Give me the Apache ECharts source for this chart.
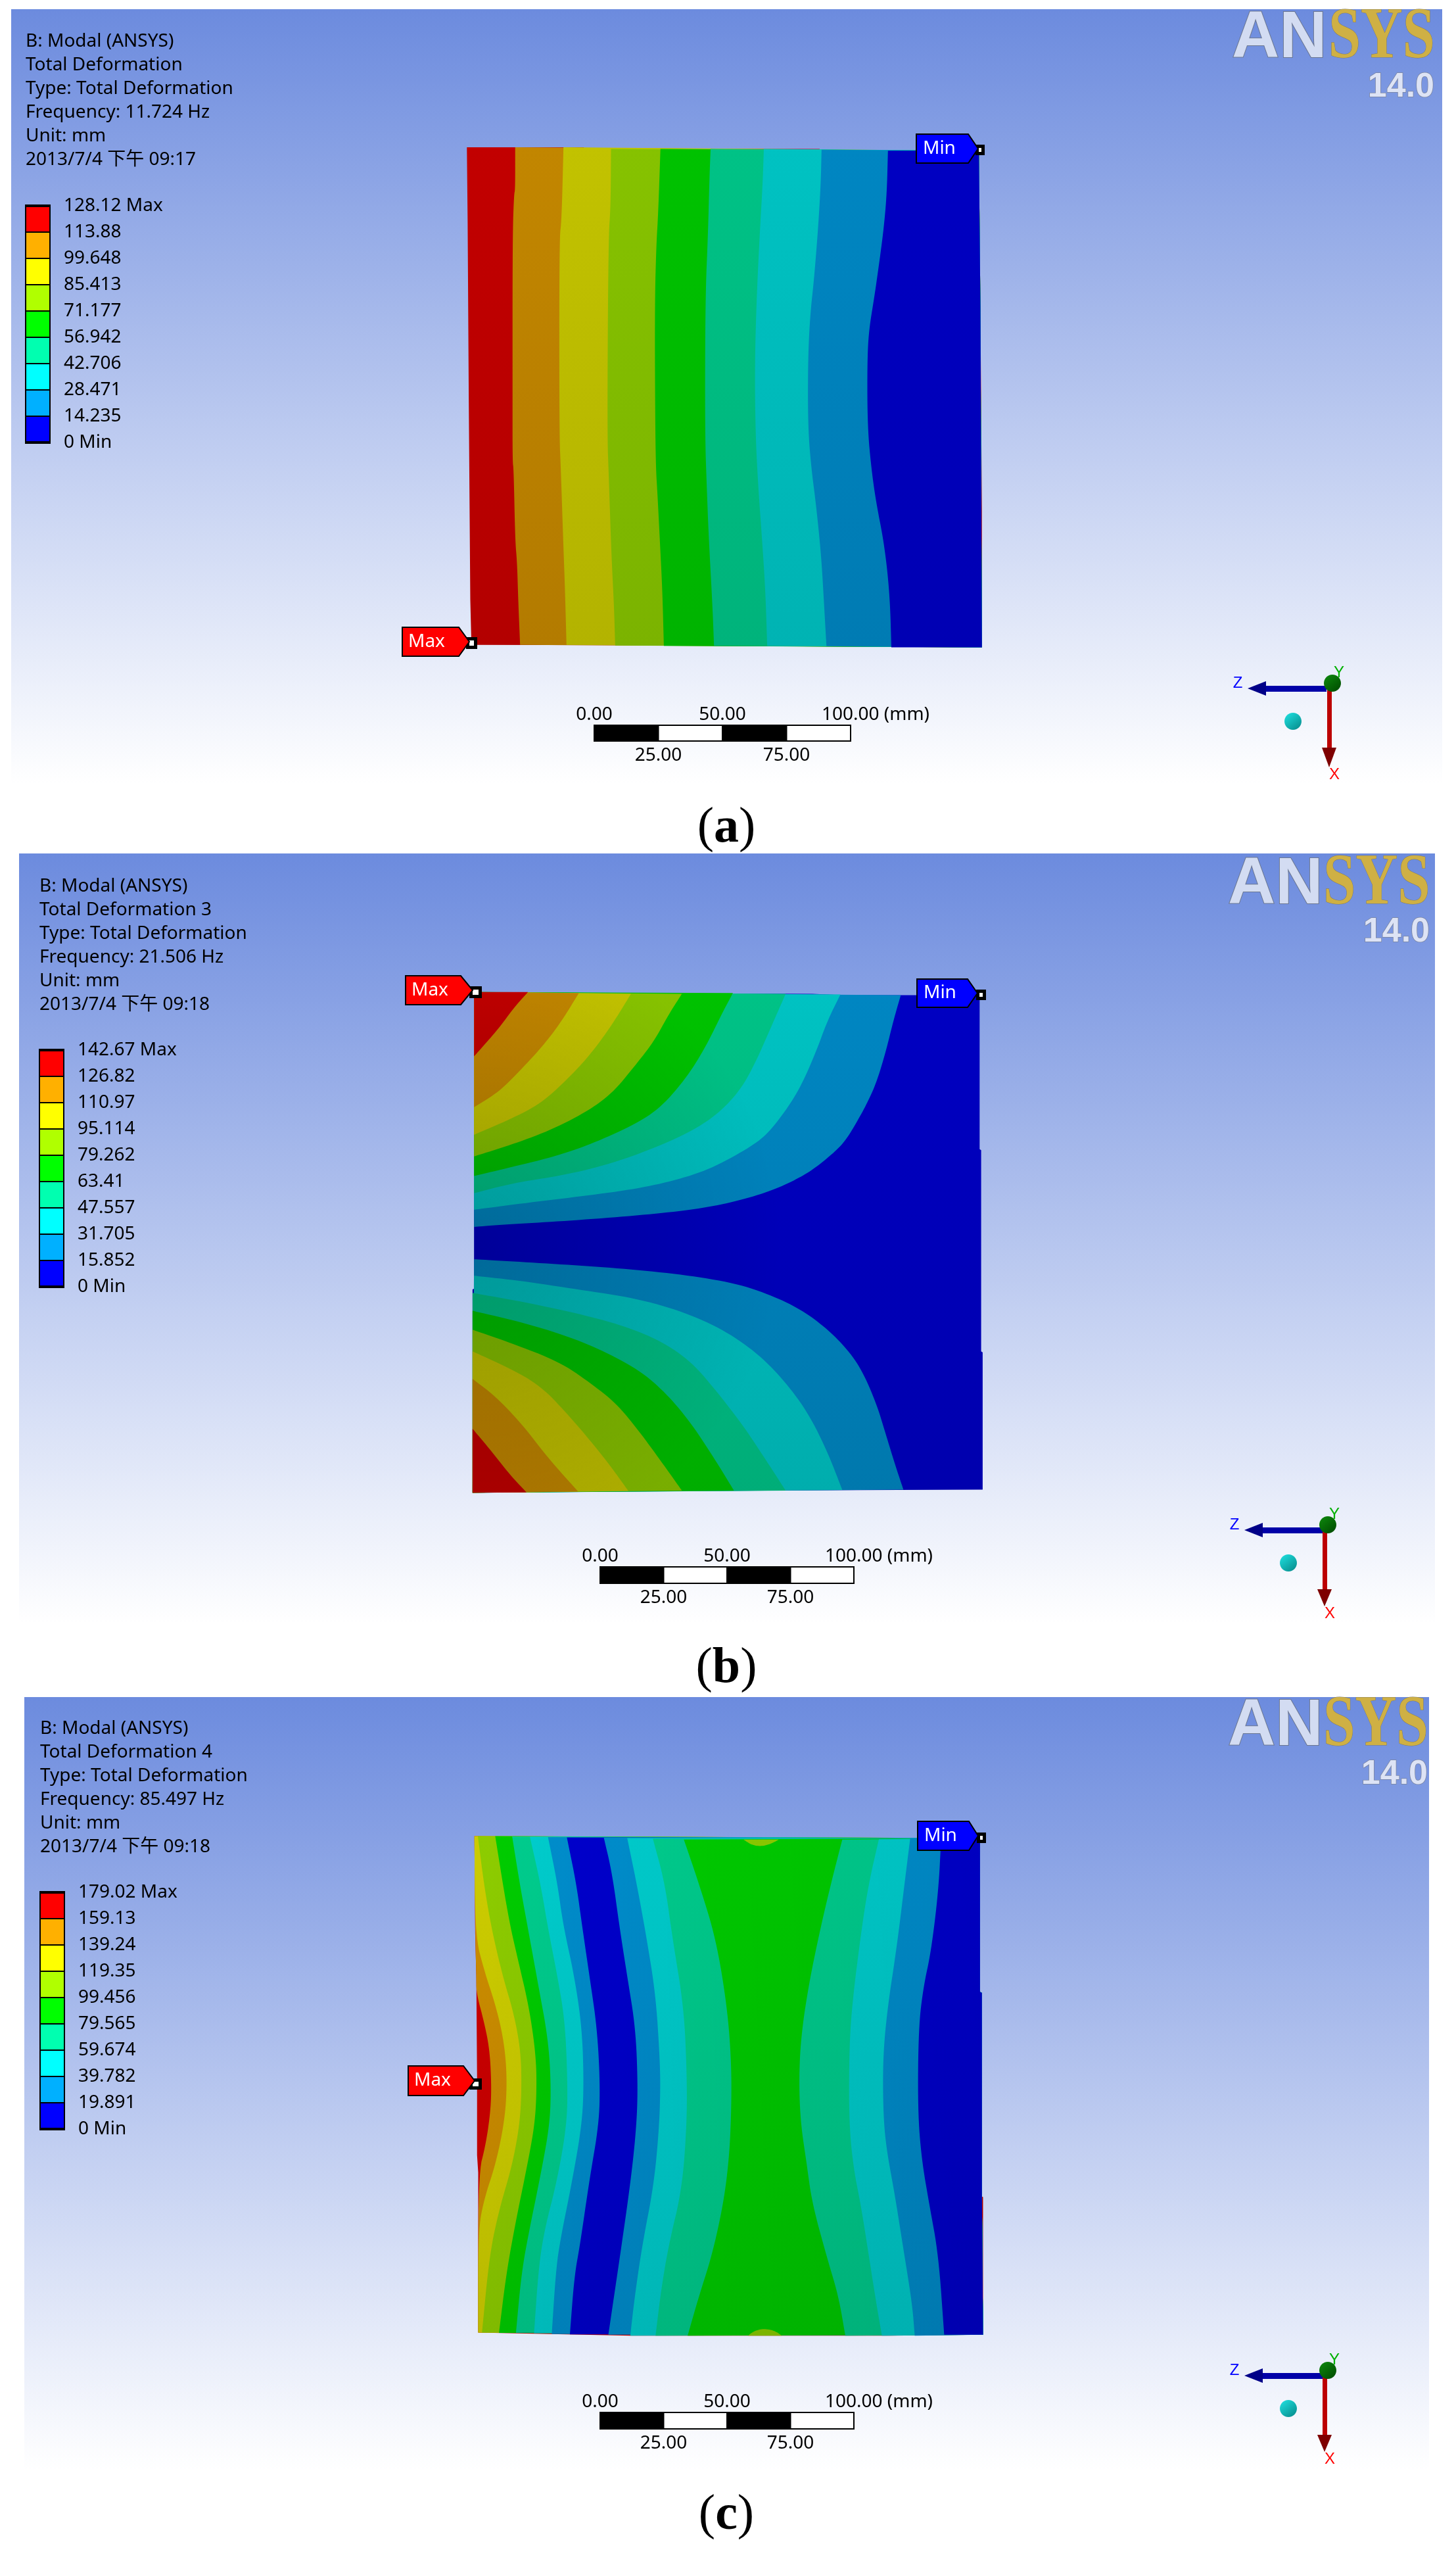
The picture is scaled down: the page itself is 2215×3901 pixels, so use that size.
<!DOCTYPE html>
<html><head><meta charset="utf-8">
<style>html,body{margin:0;padding:0;background:#fff}#c{width:2215px;height:3901px}</style>
<script src="https://cdn.jsdelivr.net/npm/echarts@6/dist/echarts.min.js"></script>
</head><body><div id="c"></div>
<script>
// ---------- text ----------
const headerA = ['B: Modal (ANSYS)','Total Deformation','Type: Total Deformation','Frequency: 11.724 Hz','Unit: mm','2013/7/4 下午 09:17'];
const headerB = ['B: Modal (ANSYS)','Total Deformation 3','Type: Total Deformation','Frequency: 21.506 Hz','Unit: mm','2013/7/4 下午 09:18'];
const headerC = ['B: Modal (ANSYS)','Total Deformation 4','Type: Total Deformation','Frequency: 85.497 Hz','Unit: mm','2013/7/4 下午 09:18'];
const levelsA = ['0 Min','14.235','28.471','42.706','56.942','71.177','85.413','99.648','113.88','128.12 Max'];
const levelsB = ['0 Min','15.852','31.705','47.557','63.41','79.262','95.114','110.97','126.82','142.67 Max'];
const levelsC = ['0 Min','19.891','39.782','59.674','79.565','99.456','119.35','139.24','159.13','179.02 Max'];
const scaleTicks = ['0.00','25.00','50.00','75.00','100.00'];
const scaleStops = [0,25,50,75,100];
// legend colours, lowest band first
const bandColours = ['#0000FF','#00B0FF','#00FFFF','#00FFB0','#00FF00','#B0FF00','#FFFF00','#FFB000','#FF0000'];

// ---------- plate contours, plate units ----------
const plateA = [[105,65],[415,65],[415,70],[1040,70],[1040,75],[1462,75],[1466,525],[1470,1120],[1470,1519],[1130,1516],[490,1513],[117,1512],[114,1380],[110,800],[107,280]];
const aC1 = [[233,65],[233,190],[230,200],[226,325],[226,800],[226,980],[229,1000],[233,1210],[238,1270],[241,1380],[246,1512]];
const aC2 = [[361,65],[356,280],[350,330],[350,900],[354,1000],[360,1200],[365,1350],[369,1512]];
const aC3 = [[487,70],[486,240],[480,330],[477,900],[481,1020],[488,1250],[495,1400],[498,1514]];
const aC4 = [[618,70],[612,260],[607,350],[603,520],[604,850],[606,1000],[610,1070],[616,1200],[623,1350],[627,1515]];
const aC5 = [[751,70],[748,150],[744,320],[737,500],[736,900],[741,1060],[746,1200],[756,1400],[760,1515]];
const aC6 = [[892,70],[889,170],[882,300],[873,500],[868,700],[870,900],[877,1050],[887,1200],[896,1350],[901,1515]];
const aC7 = [[1045,72],[1043,170],[1036,300],[1025,450],[1015,550],[1009,680],[1009,880],[1018,1000],[1030,1100],[1044,1250],[1052,1400],[1058,1516]];
const aC8 = [[1221,75],[1218,200],[1210,300],[1198,400],[1185,500],[1170,600],[1166,700],[1167,880],[1177,1000],[1190,1100],[1208,1200],[1220,1300],[1227,1400],[1230,1519]];
const aCorners = [[1470,1519],[1466,525],[1462,75]];

const plateB = [[124,55],[400,58],[1020,60],[1100,64],[1464,64],[1464,512],[1468,515],[1468,1100],[1472,1103],[1472,1502],[1030,1504],[530,1506],[120,1511],[120,920],[124,918]];
const bU8 = [[124,738],[220,730],[350,722],[510,709],[650,695],[750,680],[850,655],[930,625],[990,593],[1030,565],[1080,520],[1110,485],[1140,430],[1165,380],[1190,320],[1215,230],[1235,140],[1255,64]];
const bU7 = [[124,688],[250,670],[400,650],[540,630],[650,605],[750,570],[850,510],[900,470],[950,400],[990,330],[1030,230],[1060,140],[1095,62]];
const bU6 = [[124,640],[230,610],[350,590],[470,560],[600,510],[700,460],[770,410],[830,340],[870,260],[910,160],[950,60]];
const bU5 = [[124,590],[220,565],[350,530],[450,490],[550,440],[620,390],[690,300],[740,210],[780,120],[810,58]];
const bU4 = [[124,533],[220,500],[320,460],[420,405],[490,350],[550,270],[600,200],[640,120],[675,60]];
const bU3 = [[124,470],[220,425],[300,380],[370,310],[430,240],[490,150],[540,60]];
const bU2 = [[124,390],[190,345],[240,290],[300,220],[350,150],[402,58]];
const bU1 = [[124,242],[150,210],[190,160],[230,100],[267,55]];
const bL8 = [[124,832],[250,840],[400,850],[550,862],[700,880],[830,905],[930,945],[1000,985],[1060,1035],[1110,1090],[1150,1150],[1190,1250],[1215,1340],[1240,1430],[1262,1502]];
const bL7 = [[124,880],[250,895],[400,920],[550,945],[680,985],[790,1040],[880,1110],[950,1190],[1010,1280],[1060,1390],[1100,1503]];
const bL6 = [[120,930],[250,955],[400,990],[520,1025],[620,1070],[700,1130],[770,1220],[840,1320],[900,1420],[950,1505]];
const bL5 = [[120,982],[250,1015],[370,1055],[470,1100],[570,1160],[640,1230],[700,1310],[760,1410],[813,1505]];
const bL4 = [[120,1037],[220,1075],[350,1130],[430,1190],[500,1250],[560,1330],[620,1420],[675,1505]];
const bL3 = [[120,1100],[220,1150],[300,1200],[370,1280],[440,1370],[490,1440],[533,1506]];
const bL2 = [[120,1180],[180,1230],[250,1310],[320,1410],[400,1508]];
const bL1 = [[120,1325],[170,1390],[220,1460],[263,1510]];
const bTopCorner = [[124,55]];
const bBottomCorner = [[120,1511]];

const plateC = [[125,62],[320,65],[530,68],[1000,72],[1250,68],[1465,68],[1465,515],[1470,518],[1470,1110],[1473,1112],[1473,1512],[1225,1515],[540,1515],[325,1510],[135,1506],[135,1040],[132,990],[132,760],[130,470],[127,345]];
const cC1 = [[125,62],[127,345],[130,470],[130,518],[150,600],[165,680],[170,780],[168,860],[155,960],[135,1045],[135,1506]];
const cC2 = [[125,62],[127,350],[150,450],[180,550],[200,640],[210,730],[210,830],[200,920],[180,1020],[150,1120],[135,1210],[135,1506]];
const cC3 = [[134,62],[150,200],[170,330],[200,470],[230,580],[248,690],[250,800],[245,900],[225,1020],[190,1150],[165,1280],[145,1506]];
const cC4 = [[180,62],[215,300],[240,420],[270,560],[288,700],[290,800],[285,900],[265,1020],[235,1180],[210,1330],[190,1507]];
const cC5 = [[225,63],[245,200],[265,320],[295,500],[320,650],[328,780],[325,900],[300,1050],[270,1210],[250,1330],[235,1507]];
const cC6 = [[272,64],[300,200],[320,330],[345,470],[365,600],[372,780],[370,900],[345,1060],[310,1210],[295,1320],[283,1508]];
const cC7 = [[320,65],[345,200],[360,320],[390,470],[410,620],[415,780],[410,900],[385,1060],[350,1250],[340,1340],[330,1510]];
const cC8 = [[370,66],[395,200],[410,320],[430,470],[450,620],[458,780],[455,900],[430,1060],[405,1250],[390,1340],[378,1511]];
const cC9 = [[468,67],[490,170],[510,330],[530,470],[552,620],[558,780],[555,900],[540,1060],[510,1290],[495,1400],[480,1512]];
const cC10 = [[530,68],[555,200],[580,350],[605,520],[616,700],[618,800],[614,920],[600,1080],[570,1250],[550,1400],[538,1515]];
const cC11 = [[598,70],[630,200],[650,360],[680,560],[688,750],[688,900],[675,1090],[640,1250],[620,1380],[605,1515]];
const cC12 = [[680,72],[720,200],[765,360],[795,560],[806,720],[806,860],[800,1000],[785,1130],[755,1280],[720,1400],[690,1515]];
const cC13 = [[1100,72],[1070,200],[1040,340],[1010,500],[990,650],[985,780],[990,900],[1005,1010],[1020,1130],[1060,1290],[1090,1400],[1108,1515]];
const cC14 = [[1197,71],[1170,200],[1150,340],[1125,560],[1118,700],[1118,900],[1130,1030],[1150,1140],[1170,1280],[1190,1420],[1205,1515]];
const cC15 = [[1280,68],[1265,200],[1245,380],[1220,560],[1208,700],[1208,850],[1215,960],[1240,1110],[1260,1250],[1285,1420],[1292,1515]];
const cC16 = [[1362,68],[1355,220],[1335,400],[1315,500],[1302,620],[1300,860],[1310,1000],[1330,1130],[1355,1280],[1370,1512]];
const cBlobTop = [[838,72],[860,88],[885,92],[910,85],[932,72]];
const cBlobBottom = [[850,1515],[865,1502],[890,1494],[920,1500],[940,1515]];
const cCorners = [[1473,1512],[1470,1110],[1470,518],[1465,515],[1465,68]];

// ---------- helpers ----------
const FONT = '"Noto Sans","Noto Sans CJK TC",sans-serif';
const TXT = 28;
function shade(hex,f){const n=parseInt(hex.slice(1),16);
  return 'rgb('+[n>>16&255,n>>8&255,n&255].map(v=>Math.round(v*f)).join(',')+')';}
function bandFill(ci,y0,y1,f0,f1){const c=bandColours[ci];
  return new echarts.graphic.LinearGradient(0,y0,0,y1,[{offset:0,color:shade(c,f0)},{offset:1,color:shade(c,f1)}],true);}
// corner rounding of a drawn outline (ends stay where they were read)
function rounded(pts){let p=pts;for(let k=0;k<3;k++){const o=[p[0]];
  for(let i=0;i<p.length-1;i++){const a=p[i],b=p[i+1];
    o.push([a[0]*.75+b[0]*.25,a[1]*.75+b[1]*.25],[a[0]*.25+b[0]*.75,a[1]*.25+b[1]*.75]);}
  o.push(p[p.length-1]);p=o;}return p;}

const grids=[],xAxes=[],yAxes=[],series=[];
function addGrid(g,x,y){grids.push(g);xAxes.push(Object.assign({gridIndex:grids.length-1,show:false},x));yAxes.push(Object.assign({gridIndex:grids.length-1,show:false},y));return grids.length-1;}

function plateSeries(top,bands,f0,f1,veil,veilOutline){
  const g=addGrid({left:650,top:top,width:900,height:820},{type:'value',min:0,max:1568},{type:'value',min:0,max:1568,inverse:true});
  const y0=top+30,y1=top+800;
  series.push({type:'custom',xAxisIndex:g,yAxisIndex:g,silent:true,animation:false,z:2,
    data:bands.map((_,i)=>[i]),
    renderItem(p,api){const b=bands[p.dataIndex];
      const line=b.smooth?rounded(b.pts):b.pts;
      return {type:'polygon',shape:{points:line.concat(b.close).map(q=>api.coord(q))},
        style:{fill:bandFill(b.c,y0,y1,f0,f1)}};}});
  series.push({type:'custom',xAxisIndex:g,yAxisIndex:g,silent:true,animation:false,z:3,
    data:[[0]],
    renderItem(p,api){return {type:'polygon',shape:{points:veilOutline.map(q=>api.coord(q))},style:{fill:veil}};}});
}
function sweep(base,list,idx,corners){
  return [{pts:base,close:[],c:idx[0]}].concat(list.map((l,i)=>({pts:l,close:corners,c:idx[i+1],smooth:true})));
}
const bandsA = sweep(plateA,[aC1,aC2,aC3,aC4,aC5,aC6,aC7,aC8],[8,7,6,5,4,3,2,1,0],aCorners);
const bandsC = sweep(plateC,[cC1,cC2,cC3,cC4,cC5,cC6,cC7,cC8,cC9,cC10,cC11,cC12,cC13,cC14,cC15,cC16],[8,7,6,5,4,3,2,1,0,1,2,3,4,3,2,1,0],cCorners)
  .concat([{pts:cBlobTop,close:[],c:5,smooth:true},{pts:cBlobBottom,close:[],c:5,smooth:true}]);
const bandsB = [{pts:plateB,close:[],c:0}]
  .concat([bU8,bU7,bU6,bU5,bU4,bU3,bU2,bU1].map((l,i)=>({pts:l,close:bTopCorner,c:i+1,smooth:true})))
  .concat([bL8,bL7,bL6,bL5,bL4,bL3,bL2,bL1].map((l,i)=>({pts:l,close:bBottomCorner,c:i+1,smooth:true})));
const clear='rgba(0,0,0,0)';
plateSeries(190,bandsA,0.76,0.70,clear,plateA);
plateSeries(1480,bandsB,0.76,0.68,new echarts.graphic.RadialGradient(721,1890,470,[{offset:0,color:'rgba(0,0,0,0.17)'},{offset:1,color:clear}],true),plateB);
plateSeries(2760,bandsC,0.80,0.73,new echarts.graphic.LinearGradient(720,0,1490,0,[{offset:0,color:clear},{offset:1,color:'rgba(0,0,0,0.06)'}],true),plateC);

function legendSeries(left,top,labels){
  const g=addGrid({left:left,top:top,width:37,height:360},{type:'value',min:0,max:1},
    {type:'value',min:0,max:9,interval:1,show:true,position:'right',axisLine:{show:false},axisTick:{show:false},splitLine:{show:false},
     axisLabel:{show:true,margin:21,color:'#000',fontSize:TXT,fontFamily:FONT,showMinLabel:true,showMaxLabel:true,hideOverlap:false,formatter:v=>labels[Math.round(v)]}});
  series.push({type:'custom',xAxisIndex:g,yAxisIndex:g,silent:true,animation:false,z:3,
    data:bandColours.map((_,i)=>[i]),
    renderItem(p,api){const i=p.dataIndex,a=api.coord([0,i+1]),b=api.coord([1,i]);
      return {type:'rect',shape:{x:a[0],y:a[1],width:b[0]-a[0],height:b[1]-a[1]},style:{fill:bandColours[i],stroke:'#000',lineWidth:2}};}});
  series.push({type:'custom',xAxisIndex:g,yAxisIndex:g,silent:true,animation:false,z:4,
    data:[[0],[9]],
    renderItem(p,api){const v=api.value(0),a=api.coord([0,v]),b=api.coord([1,v]);
      return {type:'rect',shape:{x:a[0]-1,y:a[1]-2,width:b[0]-a[0]+2,height:4},style:{fill:'#000'}};}});
}
legendSeries(39,313,levelsA);
legendSeries(60,1597,levelsB);
legendSeries(61,2878,levelsC);

function scaleSeries(left,top,width,height){
  const g=addGrid({left:left,top:top,width:width,height:height},{type:'value',min:0,max:100},{type:'value',min:0,max:1});
  series.push({type:'custom',xAxisIndex:g,yAxisIndex:g,silent:true,animation:false,z:3,
    data:[[0],[1],[2],[3]],
    renderItem(p,api){const i=p.dataIndex,a=api.coord([scaleStops[i],1]),b=api.coord([scaleStops[i+1],0]);
      return {type:'rect',shape:{x:a[0],y:a[1],width:b[0]-a[0],height:b[1]-a[1]},style:{fill:i%2?'#fff':'#000',stroke:'#000',lineWidth:2}};}});
  series.push({type:'custom',xAxisIndex:g,yAxisIndex:g,silent:true,animation:false,z:3,
    data:scaleStops.map((_,i)=>[i]),
    renderItem(p,api){const i=p.dataIndex,c=api.coord([scaleStops[i],i%2?0:1]),last=i===4;
      return {type:'text',x:last?c[0]-44:c[0],y:i%2?c[1]+22:c[1]-16,
        style:{text:last?scaleTicks[i]+' (mm)':scaleTicks[i],fontSize:TXT,fontFamily:FONT,fill:'#000',align:last?'left':'center',verticalAlign:'middle'}};}});
}
scaleSeries(904,1103,390,24);
scaleSeries(913,2383,386,25);
scaleSeries(913,3669,386,25);

// ---------- titles ----------
const titles=[
 {text:headerA.join('\n'),left:39,top:45},{text:headerB.join('\n'),left:60,top:1330},{text:headerC.join('\n'),left:61,top:2611}
].map(t=>Object.assign(t,{padding:0,textStyle:{fontSize:TXT,fontWeight:'normal',fontFamily:FONT,color:'#000',lineHeight:36}}));
[['a',1105,1222],['b',1105,2500],['c',1105,3788]].forEach(([l,x,y])=>titles.push({
  text:'{p|(}{l|'+l+'}{p|)}',left:x,top:y,textAlign:'center',padding:0,
  textStyle:{fontWeight:'normal',rich:{p:{fontSize:76,fontWeight:'normal',fontFamily:'"Liberation Serif",serif',color:'#000'},l:{fontSize:76,fontWeight:'bold',fontFamily:'"Liberation Serif",serif',color:'#000'}}}}));

// ---------- scene furniture ----------
const gr=[];
function panel(x,y,w,h){gr.push({type:'rect',z:0,silent:true,shape:{x:x,y:y,width:w,height:h},
  style:{fill:new echarts.graphic.LinearGradient(0,0,0,1,[{offset:0,color:'#6C8BDE'},{offset:1,color:'#FFFFFF'}])}});}
panel(17,14,2177,1178);panel(29,1298,2154,1172);panel(37,2581,2137,1176);

function logo(xa,ya,xb,xe,yn){ // xa..xb AN, xb..xe SYS, ya cap top
  const mid=ya+40;
  gr.push({type:'text',z:20,silent:true,x:xa,y:mid,style:{text:'AN',fontSize:100,fontWeight:'bold',fontFamily:'"Liberation Sans"',fill:'#D3DCF2',stroke:'#6A7690',lineWidth:2,verticalAlign:'middle',align:'left'}});
  gr.push({type:'text',z:20,silent:true,x:xb,y:mid,scaleX:(xe-xb)/201,style:{text:'SYS',fontSize:110,fontFamily:'"Liberation Serif"',fontWeight:'bold',fill:'#CFB044',stroke:'#7F7A60',lineWidth:1,verticalAlign:'middle',align:'left'}});
  gr.push({type:'text',z:20,silent:true,x:xe,y:yn,style:{text:'14.0',fontSize:52,fontWeight:'bold',fontFamily:'"Liberation Sans"',fill:'#DDE3F5',stroke:'#79839E',lineWidth:1.5,verticalAlign:'middle',align:'right'}});
}
logo(1874,19,2021,2182,133);logo(1868,1306,2013,2175,1418);logo(1868,2586,2013,2172,2699);

function flag(txt,col,x0,x1,tip,y0,y1,px0,px1,py0,py1,tx){
  const m=(y0+y1)/2;
  gr.push({type:'rect',z:21,silent:true,shape:{x:px0,y:py0,width:px1-px0,height:py1-py0},style:{fill:'#000'}});
  gr.push({type:'rect',z:22,silent:true,shape:{x:px0+5,y:py0+5,width:px1-px0-10,height:py1-py0-10},style:{fill:'#fff'}});
  gr.push({type:'polygon',z:23,silent:true,shape:{points:[[x0,y0],[x1,y0],[tip,m],[x1,y1],[x0,y1]]},style:{fill:col,stroke:'#000',lineWidth:2}});
  gr.push({type:'text',z:24,silent:true,x:tx,y:m,style:{text:txt,fontSize:TXT,fontFamily:FONT,fill:'#fff',verticalAlign:'middle',align:'left'}});
}
flag('Min','#0000FF',1394,1473,1488,204,248,1484,1498,220,236,1404);
flag('Max','#FF0000',612,698,714,954,998,709,726,969,987,621);
flag('Max','#FF0000',617,701,719,1484,1528,714,733,1500,1518,626);
flag('Min','#0000FF',1395,1472,1487,1489,1532,1485,1500,1505,1521,1405);
flag('Max','#FF0000',621,705,722,3142,3187,714,733,3161,3178,630);
flag('Min','#0000FF',1396,1474,1488,2770,2814,1486,1500,2787,2803,1406);

function triad(ox,oy,tip,head,sx,zy,xr,hTop,hTip,narrow){
  // ox,oy: centre of the green ball
  const ball=(cx,cy,rx,c0,c1)=>gr.push({type:'ellipse',z:20,silent:true,shape:{cx:cx,cy:cy,rx:rx,ry:13},
    style:{fill:new echarts.graphic.LinearGradient(0,0,0.8,1,[{offset:0,color:c0},{offset:1,color:c1}])}});
  gr.push({type:'rect',z:19,silent:true,shape:{x:xr-3,y:oy+8,width:7,height:hTop-oy-8},style:{fill:'#BC0000'}});
  gr.push({type:'polygon',z:19,silent:true,shape:{points:[[xr-11,hTop],[xr+11,hTop],[xr,hTip]]},style:{fill:'#7E0000'}});
  gr.push({type:'rect',z:19,silent:true,shape:{x:head,y:zy-4,width:sx-head,height:9},style:{fill:'#0000A8'}});
  gr.push({type:'polygon',z:19,silent:true,shape:{points:[[head,zy-11],[head,zy+11],[tip,zy]]},style:{fill:'#000088'}});
  ball(ox,oy,narrow,'#0E8A0E','#004E00');
  ball(ox-60,oy+58,narrow,'#1FE3E3','#089090');
  const lab=(t,x,y,c)=>gr.push({type:'text',z:20,silent:true,x:x,y:y,style:{text:t,fontSize:24,fontFamily:'"Liberation Sans"',fill:c,align:'center',verticalAlign:'middle'}});
  lab('Z',tip-15,zy-8,'#0000FF');lab('Y',ox+10,oy-16,'#00B000');lab('X',xr+8,hTip+11,'#FF0000');
}
triad(2027,1039,1898,1926,2018,1047,2022,1137,1167,13);
triad(2020,2319,1893,1921,2012,2327,2015,2417,2443,13);
triad(2020,3605,1893,1921,2012,3613,2015,3703,3729,13);

const chart=echarts.init(document.getElementById('c'),null,{renderer:'canvas'});
chart.setOption({animation:false,backgroundColor:'#fff',title:titles,grid:grids,xAxis:xAxes,yAxis:yAxes,series:series,graphic:{elements:gr}});
</script></body></html>
